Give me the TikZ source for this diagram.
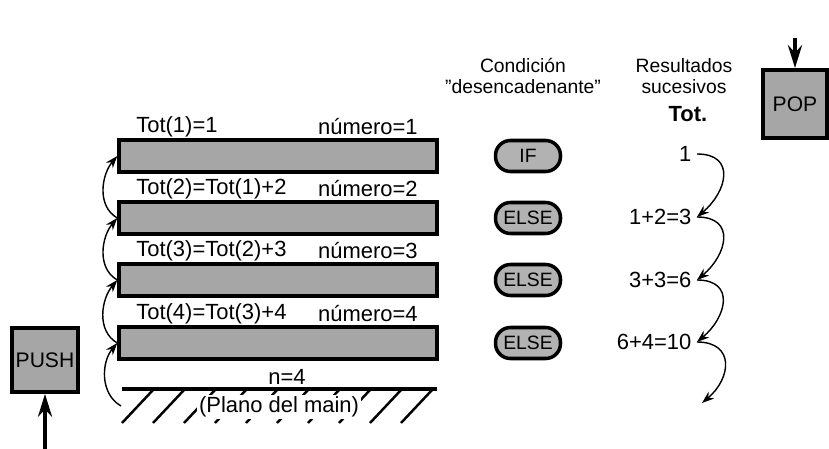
\documentclass[tikz,border=0pt]{standalone}
\usepackage{fontspec}
\setmainfont{Liberation Sans}
\usetikzlibrary{arrows.meta}
\begin{document}
\begin{tikzpicture}[x=0.02cm,y=-0.02cm,
  frame/.style={draw, line width=2pt, fill=black!35, minimum width=6.36cm, minimum height=0.64cm, inner sep=0pt},
  cond/.style={draw, line width=2pt, fill=black!30, rounded corners=8.5pt, minimum width=1.3cm, minimum height=0.62cm, inner sep=0pt, font=\fontsize{11}{13}\selectfont},
  stackbox/.style={draw, line width=2.2pt, fill=black!35, inner sep=0pt, font=\fontsize{12}{14}\selectfont},
  lbl/.style={font=\fontsize{12.5}{14}\selectfont, inner sep=0pt},
  res/.style={font=\fontsize{12.5}{14}\selectfont, inner sep=3pt, anchor=east},
  hdr/.style={align=center, font=\fontsize{11}{11.5}\selectfont, inner sep=0pt},
  call/.style={-{Stealth[length=7pt,width=5pt]}, line width=0.8pt},
  big/.style={-{Stealth[length=13pt,width=8pt]}, line width=2.6pt}]
\useasboundingbox (0,0) rectangle (829,449);
% stack frames
\node[frame] (b1) at (278,156) {};
\node[frame] (b2) at (278,218) {};
\node[frame] (b3) at (278,280) {};
\node[frame] (b4) at (278,343) {};
\node[lbl, anchor=west] (t1) at (136,127) {Tot(1)=1};
\node[lbl, anchor=west] (t2) at (136,189) {Tot(2)=Tot(1)+2};
\node[lbl, anchor=west] (t3) at (136,251) {Tot(3)=Tot(2)+3};
\node[lbl, anchor=west] (t4) at (136,314) {Tot(4)=Tot(3)+4};
\node[lbl, anchor=east] (n1) at (418,127) {número=1};
\node[lbl, anchor=east] (n2) at (418,189) {número=2};
\node[lbl, anchor=east] (n3) at (418,251) {número=3};
\node[lbl, anchor=east] (n4) at (418,314) {número=4};
% main plane
\coordinate (gl) at (122,389);
\coordinate (gr) at (437,389);
\draw[line width=1.8pt] (gl) -- (gr);
\foreach \hx in {153,184,...,432}
  \draw[line width=1.4pt] (\hx,390) -- ++(-31,33);
\node[lbl] (nval) at (287,377) {n=4};
\node[lbl, fill=white, inner sep=1pt] (plano) at (279,407) {(Plano del main)};
\coordinate (g0) at (121,406);
\draw[call] (g0) to[out=150,in=230] (b4.west);
\draw[call] (b4.west) to[out=150,in=230] (b3.west);
\draw[call] (b3.west) to[out=150,in=230] (b2.west);
\draw[call] (b2.west) to[out=150,in=230] (b1.west);
% conditions
\node[hdr] (h1) at (523,76) {Condición\\"desencadenante"};
\node[cond] (c1) at (528,156) {IF};
\node[cond] (c2) at (528,218) {ELSE};
\node[cond] (c3) at (528,280) {ELSE};
\node[cond] (c4) at (528,343) {ELSE};
% results
\node[hdr] (h2) at (684,76) {Resultados\\sucesivos};
\node[font=\fontsize{12.5}{14}\selectfont\bfseries] (h3) at (688,114) {Tot.};
\node[res] (r1) at (697,154) {1};
\node[res] (r2) at (697,217) {1+2=3};
\node[res] (r3) at (697,280) {3+3=6};
\node[res] (r4) at (697,342) {6+4=10};
\coordinate (rend) at (702,403);
\draw[call] (r1.east) to[out=0,in=40,looseness=1.6] (r2.east);
\draw[call] (r2.east) to[out=0,in=40,looseness=1.6] (r3.east);
\draw[call] (r3.east) to[out=0,in=40,looseness=1.6] (r4.east);
\draw[call] (r4.east) to[out=0,in=40,looseness=1.6] (rend);
% push / pop
\node[stackbox, minimum width=1.32cm, minimum height=1.28cm] (push) at (45,360) {PUSH};
\coordinate (pushin) at (45,449);
\draw[big] (pushin) -- (push);
\node[stackbox, minimum width=1.28cm, minimum height=1.36cm] (pop) at (795,104) {POP};
\coordinate (popin) at (795,38);
\draw[big] (popin) -- (pop);
\end{tikzpicture}
\end{document}
